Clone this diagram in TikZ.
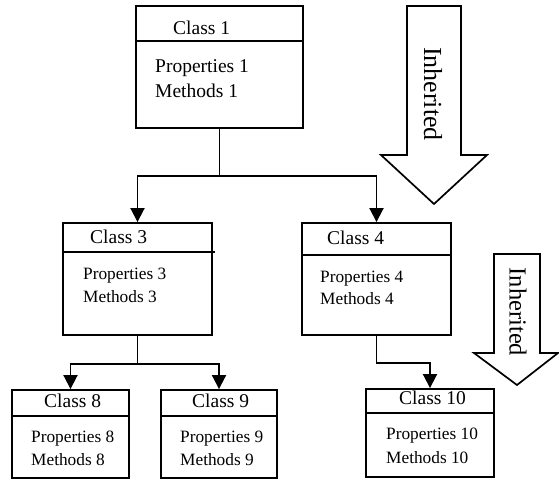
\documentclass[tikz,border=0pt]{standalone}
\usepackage{fontspec}
\setmainfont{Liberation Serif}
\usetikzlibrary{arrows.meta,calc}
\begin{document}
\begin{tikzpicture}[x=1pt,y=-1pt,
  box/.style={draw,line width=1.9pt,inner sep=0pt,rectangle},
  conn/.style={line width=1.9pt,-{Triangle[width=14pt,length=14pt]}},
  hdr/.style={line width=1.6pt},
  big/.style={draw,line width=1.7pt,fill=white,line join=miter},
  ttl/.style={anchor=base west,inner sep=0pt,font=\fontsize{19.5}{22}\selectfont},
  bodyA/.style={anchor=base west,inner sep=0pt,font=\fontsize{19.5}{22}\selectfont},
  bodyB/.style={anchor=base west,inner sep=0pt,font=\fontsize{17.3}{20}\selectfont},
  inh/.style={rotate=-90,inner sep=0pt}
]
\useasboundingbox (0,0) rectangle (559,480);
% boxes
\node[box,minimum width=167pt,minimum height=122pt] (c1) at (219.5,67) {};
\node[box,minimum width=149pt,minimum height=112pt] (c3) at (137.5,279) {};
\node[box,minimum width=149pt,minimum height=112pt] (c4) at (376.5,279) {};
\node[box,minimum width=117pt,minimum height=88pt] (c8) at (70.5,434) {};
\node[box,minimum width=116pt,minimum height=88pt] (c9) at (219,434) {};
\node[box,minimum width=128pt,minimum height=88pt] (c10) at (430,433) {};
% header lines
\draw[hdr] ($(c1.north west)+(0,36)$) -- ($(c1.north east)+(0,36)$);
\draw[hdr] ($(c3.north west)+(0,30)$) -- ($(c3.north east)+(2,30)$);
\draw[hdr] ($(c4.north west)+(0,33)$) -- ($(c4.north east)+(0,33)$);
\draw[hdr] ($(c8.north west)+(0,27)$) -- ($(c8.north east)+(0,27)$);
\draw[hdr] ($(c9.north west)+(0,27)$) -- ($(c9.north east)+(0,27)$);
\draw[hdr] ($(c10.north west)+(0,25)$) -- ($(c10.north east)+(0,25)$);
% texts
\node[ttl] (t1) at (173,34) {Class 1};
\node[bodyA] (p1) at (155,72) {Properties 1};
\node[bodyA] (m1) at (155,97) {Methods 1};
\node[ttl] (t3) at (90,243) {Class 3};
\node[bodyB] (p3) at (83,279) {Properties 3};
\node[bodyB] (m3) at (83,302) {Methods 3};
\node[ttl] (t4) at (327,244) {Class 4};
\node[bodyB] (p4) at (320,282) {Properties 4};
\node[bodyB] (m4) at (320,304) {Methods 4};
\node[ttl] (t8) at (44,407) {Class 8};
\node[bodyB] (p8) at (31,442) {Properties 8};
\node[bodyB] (m8) at (31,465) {Methods 8};
\node[ttl] (t9) at (192,407) {Class 9};
\node[bodyB] (p9) at (180,442) {Properties 9};
\node[bodyB] (m9) at (180,465) {Methods 9};
\node[ttl] (t10) at (399,404) {Class 10};
\node[bodyB] (p10) at (386,439) {Properties 10};
\node[bodyB] (m10) at (386,463) {Methods 10};
% connectors
\draw[conn] (c1.south) -- ++(0,47) -| (c3.north);
\draw[conn] (c1.south) -- ++(0,47) -| (c4.north);
\draw[conn] (c3.south) -- ++(0,28) -| (c8.north);
\draw[conn] (c3.south) -- ++(0,28) -| (c9.north);
\draw[conn] (c4.south) -- ++(0,27) -| (c10.north);
% big inherited arrows
\draw[big] (407,6) -- (461,6) -- (461,155) -- (487,155) -- (434,204) -- (381,155) -- (407,155) -- cycle;
\node[inh,font=\fontsize{26}{28}\selectfont] (i1) at (433,94) {Inherited};
\draw[big] (494,254) -- (540,254) -- (540,353) -- (558,353) -- (517,385) -- (474,353) -- (494,353) -- cycle;
\node[inh,font=\fontsize{24.5}{27}\selectfont] (i2) at (518,312) {Inherited};
\end{tikzpicture}
\end{document}
